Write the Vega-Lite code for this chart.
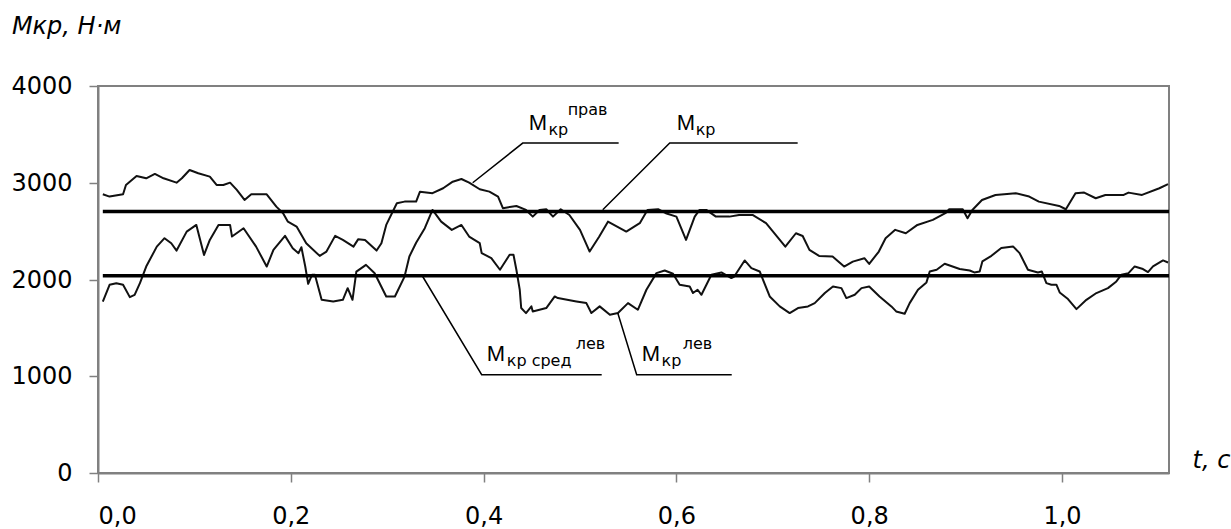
{
  "$schema": "https://vega.github.io/schema/vega-lite/v6.json",
  "width": 1071,
  "height": 387,
  "autosize": {"type": "none"},
  "padding": {"left": 98, "top": 86, "right": 62, "bottom": 56},
  "background": "white",
  "config": {
    "view": {"stroke": "#808080", "strokeWidth": 2},
    "axis": {
      "grid": false,
      "domainColor": "#808080",
      "domainWidth": 2,
      "tickColor": "#808080",
      "tickWidth": 1.5,
      "tickSize": 9,
      "labelColor": "#000000",
      "labelFont": "DejaVu Sans",
      "labelFontSize": 24,
      "titleFont": "DejaVu Sans",
      "titleFontSize": 24,
      "titleFontStyle": "italic",
      "titleFontWeight": "normal",
      "titleColor": "#000000"
    }
  },
  "datasets": {
    "curves": [
      {"s": "r", "t": 0.005, "v": 2881}, {"s": "r", "t": 0.012, "v": 2857}, {"s": "r", "t": 0.026, "v": 2881}, {"s": "r", "t": 0.029, "v": 2977},
      {"s": "r", "t": 0.040, "v": 3070}, {"s": "r", "t": 0.050, "v": 3046}, {"s": "r", "t": 0.059, "v": 3091}, {"s": "r", "t": 0.068, "v": 3046},
      {"s": "r", "t": 0.0815, "v": 3001}, {"s": "r", "t": 0.087, "v": 3046}, {"s": "r", "t": 0.095, "v": 3132}, {"s": "r", "t": 0.104, "v": 3098},
      {"s": "r", "t": 0.116, "v": 3063}, {"s": "r", "t": 0.123, "v": 2977}, {"s": "r", "t": 0.130, "v": 2977}, {"s": "r", "t": 0.137, "v": 3001},
      {"s": "r", "t": 0.144, "v": 2926}, {"s": "r", "t": 0.152, "v": 2822}, {"s": "r", "t": 0.159, "v": 2881}, {"s": "r", "t": 0.175, "v": 2881},
      {"s": "r", "t": 0.185, "v": 2753}, {"s": "r", "t": 0.192, "v": 2685}, {"s": "r", "t": 0.197, "v": 2598}, {"s": "r", "t": 0.206, "v": 2547},
      {"s": "r", "t": 0.216, "v": 2375}, {"s": "r", "t": 0.230, "v": 2244}, {"s": "r", "t": 0.237, "v": 2289}, {"s": "r", "t": 0.246, "v": 2451},
      {"s": "r", "t": 0.254, "v": 2409}, {"s": "r", "t": 0.265, "v": 2340}, {"s": "r", "t": 0.270, "v": 2417}, {"s": "r", "t": 0.277, "v": 2409},
      {"s": "r", "t": 0.289, "v": 2299}, {"s": "r", "t": 0.294, "v": 2375}, {"s": "r", "t": 0.299, "v": 2564}, {"s": "r", "t": 0.310, "v": 2788},
      {"s": "r", "t": 0.318, "v": 2805}, {"s": "r", "t": 0.330, "v": 2805}, {"s": "r", "t": 0.334, "v": 2908}, {"s": "r", "t": 0.347, "v": 2892},
      {"s": "r", "t": 0.358, "v": 2943}, {"s": "r", "t": 0.368, "v": 3011}, {"s": "r", "t": 0.377, "v": 3039}, {"s": "r", "t": 0.385, "v": 3001},
      {"s": "r", "t": 0.396, "v": 2933}, {"s": "r", "t": 0.406, "v": 2908}, {"s": "r", "t": 0.415, "v": 2857}, {"s": "r", "t": 0.420, "v": 2737},
      {"s": "r", "t": 0.434, "v": 2760}, {"s": "r", "t": 0.444, "v": 2719}, {"s": "r", "t": 0.451, "v": 2650}, {"s": "r", "t": 0.458, "v": 2719},
      {"s": "r", "t": 0.465, "v": 2726}, {"s": "r", "t": 0.472, "v": 2650}, {"s": "r", "t": 0.480, "v": 2726}, {"s": "r", "t": 0.489, "v": 2667},
      {"s": "r", "t": 0.500, "v": 2513}, {"s": "r", "t": 0.510, "v": 2289}, {"s": "r", "t": 0.520, "v": 2444}, {"s": "r", "t": 0.529, "v": 2598},
      {"s": "r", "t": 0.548, "v": 2495}, {"s": "r", "t": 0.562, "v": 2582}, {"s": "r", "t": 0.570, "v": 2719}, {"s": "r", "t": 0.581, "v": 2726},
      {"s": "r", "t": 0.589, "v": 2685}, {"s": "r", "t": 0.600, "v": 2650}, {"s": "r", "t": 0.610, "v": 2409}, {"s": "r", "t": 0.619, "v": 2650},
      {"s": "r", "t": 0.624, "v": 2719}, {"s": "r", "t": 0.631, "v": 2719}, {"s": "r", "t": 0.641, "v": 2650}, {"s": "r", "t": 0.655, "v": 2650},
      {"s": "r", "t": 0.665, "v": 2667}, {"s": "r", "t": 0.679, "v": 2667}, {"s": "r", "t": 0.693, "v": 2582}, {"s": "r", "t": 0.713, "v": 2340},
      {"s": "r", "t": 0.724, "v": 2478}, {"s": "r", "t": 0.731, "v": 2450}, {"s": "r", "t": 0.738, "v": 2306}, {"s": "r", "t": 0.748, "v": 2244},
      {"s": "r", "t": 0.762, "v": 2237}, {"s": "r", "t": 0.774, "v": 2134}, {"s": "r", "t": 0.783, "v": 2185}, {"s": "r", "t": 0.795, "v": 2220},
      {"s": "r", "t": 0.800, "v": 2161}, {"s": "r", "t": 0.810, "v": 2289}, {"s": "r", "t": 0.817, "v": 2427}, {"s": "r", "t": 0.827, "v": 2513},
      {"s": "r", "t": 0.838, "v": 2478}, {"s": "r", "t": 0.850, "v": 2564}, {"s": "r", "t": 0.866, "v": 2616}, {"s": "r", "t": 0.879, "v": 2685},
      {"s": "r", "t": 0.883, "v": 2726}, {"s": "r", "t": 0.897, "v": 2726}, {"s": "r", "t": 0.902, "v": 2633}, {"s": "r", "t": 0.907, "v": 2719},
      {"s": "r", "t": 0.917, "v": 2822}, {"s": "r", "t": 0.931, "v": 2874}, {"s": "r", "t": 0.952, "v": 2892}, {"s": "r", "t": 0.966, "v": 2857},
      {"s": "r", "t": 0.976, "v": 2805}, {"s": "r", "t": 0.997, "v": 2760}, {"s": "r", "t": 1.004, "v": 2726}, {"s": "r", "t": 1.014, "v": 2892},
      {"s": "r", "t": 1.023, "v": 2898}, {"s": "r", "t": 1.035, "v": 2840}, {"s": "r", "t": 1.045, "v": 2874}, {"s": "r", "t": 1.064, "v": 2874},
      {"s": "r", "t": 1.069, "v": 2898}, {"s": "r", "t": 1.083, "v": 2874}, {"s": "r", "t": 1.101, "v": 2943}, {"s": "r", "t": 1.110, "v": 2985},
      {"s": "l", "t": 0.005, "v": 1772}, {"s": "l", "t": 0.012, "v": 1945}, {"s": "l", "t": 0.019, "v": 1962}, {"s": "l", "t": 0.026, "v": 1945},
      {"s": "l", "t": 0.033, "v": 1818}, {"s": "l", "t": 0.038, "v": 1841}, {"s": "l", "t": 0.0435, "v": 1962}, {"s": "l", "t": 0.050, "v": 2134},
      {"s": "l", "t": 0.061, "v": 2340}, {"s": "l", "t": 0.069, "v": 2427}, {"s": "l", "t": 0.076, "v": 2375}, {"s": "l", "t": 0.0815, "v": 2299},
      {"s": "l", "t": 0.092, "v": 2495}, {"s": "l", "t": 0.102, "v": 2564}, {"s": "l", "t": 0.106, "v": 2409}, {"s": "l", "t": 0.110, "v": 2254},
      {"s": "l", "t": 0.116, "v": 2409}, {"s": "l", "t": 0.125, "v": 2564}, {"s": "l", "t": 0.137, "v": 2564}, {"s": "l", "t": 0.139, "v": 2444},
      {"s": "l", "t": 0.151, "v": 2530}, {"s": "l", "t": 0.164, "v": 2340}, {"s": "l", "t": 0.175, "v": 2134}, {"s": "l", "t": 0.182, "v": 2306},
      {"s": "l", "t": 0.194, "v": 2451}, {"s": "l", "t": 0.202, "v": 2323}, {"s": "l", "t": 0.208, "v": 2272}, {"s": "l", "t": 0.211, "v": 2334},
      {"s": "l", "t": 0.215, "v": 2134}, {"s": "l", "t": 0.218, "v": 1955}, {"s": "l", "t": 0.222, "v": 2048}, {"s": "l", "t": 0.225, "v": 2048},
      {"s": "l", "t": 0.232, "v": 1790}, {"s": "l", "t": 0.244, "v": 1772}, {"s": "l", "t": 0.254, "v": 1790}, {"s": "l", "t": 0.259, "v": 1910},
      {"s": "l", "t": 0.264, "v": 1790}, {"s": "l", "t": 0.268, "v": 2082}, {"s": "l", "t": 0.278, "v": 2151}, {"s": "l", "t": 0.287, "v": 2065},
      {"s": "l", "t": 0.299, "v": 1824}, {"s": "l", "t": 0.308, "v": 1824}, {"s": "l", "t": 0.318, "v": 2030}, {"s": "l", "t": 0.323, "v": 2238},
      {"s": "l", "t": 0.330, "v": 2380}, {"s": "l", "t": 0.339, "v": 2530}, {"s": "l", "t": 0.347, "v": 2719}, {"s": "l", "t": 0.356, "v": 2598},
      {"s": "l", "t": 0.367, "v": 2513}, {"s": "l", "t": 0.377, "v": 2564}, {"s": "l", "t": 0.385, "v": 2444}, {"s": "l", "t": 0.396, "v": 2375},
      {"s": "l", "t": 0.398, "v": 2273}, {"s": "l", "t": 0.408, "v": 2221}, {"s": "l", "t": 0.417, "v": 2101}, {"s": "l", "t": 0.427, "v": 2256},
      {"s": "l", "t": 0.431, "v": 2256}, {"s": "l", "t": 0.434, "v": 2101}, {"s": "l", "t": 0.4375, "v": 1894}, {"s": "l", "t": 0.439, "v": 1705},
      {"s": "l", "t": 0.444, "v": 1653}, {"s": "l", "t": 0.4496, "v": 1722}, {"s": "l", "t": 0.451, "v": 1670}, {"s": "l", "t": 0.465, "v": 1705},
      {"s": "l", "t": 0.4738, "v": 1825}, {"s": "l", "t": 0.477, "v": 1808}, {"s": "l", "t": 0.4963, "v": 1773}, {"s": "l", "t": 0.5066, "v": 1756},
      {"s": "l", "t": 0.5118, "v": 1653}, {"s": "l", "t": 0.5204, "v": 1722}, {"s": "l", "t": 0.531, "v": 1636}, {"s": "l", "t": 0.5394, "v": 1653},
      {"s": "l", "t": 0.5498, "v": 1756}, {"s": "l", "t": 0.560, "v": 1687}, {"s": "l", "t": 0.5689, "v": 1894}, {"s": "l", "t": 0.5793, "v": 2066},
      {"s": "l", "t": 0.5879, "v": 2093}, {"s": "l", "t": 0.5965, "v": 2059}, {"s": "l", "t": 0.6034, "v": 1946}, {"s": "l", "t": 0.6138, "v": 1928},
      {"s": "l", "t": 0.6172, "v": 1860}, {"s": "l", "t": 0.622, "v": 1894}, {"s": "l", "t": 0.626, "v": 1842}, {"s": "l", "t": 0.6363, "v": 2049},
      {"s": "l", "t": 0.6467, "v": 2073}, {"s": "l", "t": 0.657, "v": 2015}, {"s": "l", "t": 0.660, "v": 2031}, {"s": "l", "t": 0.6708, "v": 2197},
      {"s": "l", "t": 0.6778, "v": 2118}, {"s": "l", "t": 0.6864, "v": 2083}, {"s": "l", "t": 0.6968, "v": 1825}, {"s": "l", "t": 0.7072, "v": 1722},
      {"s": "l", "t": 0.7175, "v": 1653}, {"s": "l", "t": 0.7261, "v": 1705}, {"s": "l", "t": 0.7365, "v": 1722}, {"s": "l", "t": 0.7435, "v": 1756},
      {"s": "l", "t": 0.754, "v": 1860}, {"s": "l", "t": 0.7624, "v": 1928}, {"s": "l", "t": 0.7712, "v": 1911}, {"s": "l", "t": 0.7763, "v": 1808},
      {"s": "l", "t": 0.785, "v": 1842}, {"s": "l", "t": 0.792, "v": 1911}, {"s": "l", "t": 0.800, "v": 1928}, {"s": "l", "t": 0.8107, "v": 1825},
      {"s": "l", "t": 0.823, "v": 1722}, {"s": "l", "t": 0.828, "v": 1670}, {"s": "l", "t": 0.8368, "v": 1646}, {"s": "l", "t": 0.842, "v": 1756},
      {"s": "l", "t": 0.8506, "v": 1894}, {"s": "l", "t": 0.8594, "v": 1970}, {"s": "l", "t": 0.8628, "v": 2083}, {"s": "l", "t": 0.870, "v": 2101},
      {"s": "l", "t": 0.8783, "v": 2163}, {"s": "l", "t": 0.8939, "v": 2108}, {"s": "l", "t": 0.9043, "v": 2093}, {"s": "l", "t": 0.909, "v": 2073},
      {"s": "l", "t": 0.9146, "v": 2083}, {"s": "l", "t": 0.9174, "v": 2187}, {"s": "l", "t": 0.9268, "v": 2245}, {"s": "l", "t": 0.937, "v": 2325},
      {"s": "l", "t": 0.9492, "v": 2342}, {"s": "l", "t": 0.956, "v": 2273}, {"s": "l", "t": 0.9647, "v": 2101}, {"s": "l", "t": 0.975, "v": 2073},
      {"s": "l", "t": 0.979, "v": 2083}, {"s": "l", "t": 0.9838, "v": 1963}, {"s": "l", "t": 0.989, "v": 1946}, {"s": "l", "t": 0.9942, "v": 1946},
      {"s": "l", "t": 0.9976, "v": 1866}, {"s": "l", "t": 1.0062, "v": 1798}, {"s": "l", "t": 1.015, "v": 1694}, {"s": "l", "t": 1.0253, "v": 1790},
      {"s": "l", "t": 1.0357, "v": 1860}, {"s": "l", "t": 1.0477, "v": 1911}, {"s": "l", "t": 1.0564, "v": 1980}, {"s": "l", "t": 1.0616, "v": 2049},
      {"s": "l", "t": 1.069, "v": 2066}, {"s": "l", "t": 1.0754, "v": 2135}, {"s": "l", "t": 1.084, "v": 2108}, {"s": "l", "t": 1.0892, "v": 2077},
      {"s": "l", "t": 1.0944, "v": 2135}, {"s": "l", "t": 1.1048, "v": 2197}, {"s": "l", "t": 1.11, "v": 2176}
    ],
    "means": [
      {"g": "total", "t": 0.005, "v": 2703}, {"g": "total", "t": 1.111, "v": 2703},
      {"g": "left", "t": 0.005, "v": 2039}, {"g": "left", "t": 1.111, "v": 2039}
    ],
    "leaders": [
      {"g": "prav", "t": 0.3887, "v": 3000}, {"g": "prav", "t": 0.4406, "v": 3410}, {"g": "prav", "t": 0.5401, "v": 3410},
      {"g": "kr", "t": 0.5236, "v": 2721}, {"g": "kr", "t": 0.5931, "v": 3410}, {"g": "kr", "t": 0.7258, "v": 3410},
      {"g": "sred", "t": 0.3368, "v": 2031}, {"g": "sred", "t": 0.398, "v": 1016}, {"g": "sred", "t": 0.5225, "v": 1016},
      {"g": "lev", "t": 0.5391, "v": 1656}, {"g": "lev", "t": 0.5588, "v": 1016}, {"g": "lev", "t": 0.6574, "v": 1016}
    ],
    "labels": [
      {"role": "main", "t": 0.4468, "v": 3547, "txt": "M"},
      {"role": "sub", "t": 0.4672, "v": 3496, "txt": "кр"},
      {"role": "sup", "t": 0.4872, "v": 3703, "txt": "прав"},
      {"role": "main", "t": 0.6003, "v": 3547, "txt": "M"},
      {"role": "sub", "t": 0.6200, "v": 3496, "txt": "кр"},
      {"role": "main", "t": 0.4032, "v": 1153, "txt": "M"},
      {"role": "sub", "t": 0.4240, "v": 1101, "txt": "кр сред"},
      {"role": "sup", "t": 0.4955, "v": 1284, "txt": "лев"},
      {"role": "main", "t": 0.5640, "v": 1153, "txt": "M"},
      {"role": "sub", "t": 0.5846, "v": 1101, "txt": "кр"},
      {"role": "sup", "t": 0.6065, "v": 1284, "txt": "лев"}
    ]
  },
  "encoding": {
    "x": {
      "field": "t",
      "type": "quantitative",
      "scale": {"domain": [0, 1.111], "nice": false, "zero": false},
      "axis": {
        "values": [0, 0.2, 0.4, 0.6, 0.8, 1.0],
        "labelExpr": "replace(format(datum.value, '.1f'), '.', ',')",
        "labelBaseline": "alphabetic",
        "labelPadding": 41,
        "title": "t, c",
        "titleX": 1094,
        "titleY": -6,
        "titleAlign": "left",
        "titleBaseline": "alphabetic",
        "titleAngle": 0
      }
    },
    "y": {
      "field": "v",
      "type": "quantitative",
      "scale": {"domain": [0, 4000], "nice": false},
      "axis": {
        "values": [0, 1000, 2000, 3000, 4000],
        "format": "d",
        "labelBaseline": "alphabetic",
        "labelOffset": 7.5,
        "labelPadding": 17,
        "title": "Мкр, Н·м",
        "titleAngle": 0,
        "titleX": -86.6,
        "titleY": -53,
        "titleAlign": "left",
        "titleBaseline": "alphabetic"
      }
    }
  },
  "layer": [
    {
      "data": {"name": "curves"},
      "mark": {"type": "line", "color": "#111111", "strokeWidth": 2, "strokeJoin": "round"},
      "encoding": {"detail": {"field": "s"}}
    },
    {
      "data": {"name": "means"},
      "mark": {"type": "line", "color": "#000000", "strokeWidth": 3.5},
      "encoding": {"detail": {"field": "g"}}
    },
    {
      "data": {"name": "leaders"},
      "mark": {"type": "line", "color": "#000000", "strokeWidth": 1.5},
      "encoding": {"detail": {"field": "g"}}
    },
    {
      "data": {"name": "labels"},
      "transform": [{"filter": "datum.role === 'main'"}],
      "mark": {"type": "text", "font": "Liberation Sans", "fontSize": 22, "align": "left", "baseline": "alphabetic", "color": "#000000"},
      "encoding": {"text": {"field": "txt"}}
    },
    {
      "data": {"name": "labels"},
      "transform": [{"filter": "datum.role !== 'main'"}],
      "mark": {"type": "text", "font": "DejaVu Sans", "fontSize": 16, "align": "left", "baseline": "alphabetic", "color": "#000000"},
      "encoding": {"text": {"field": "txt"}}
    }
  ]
}
